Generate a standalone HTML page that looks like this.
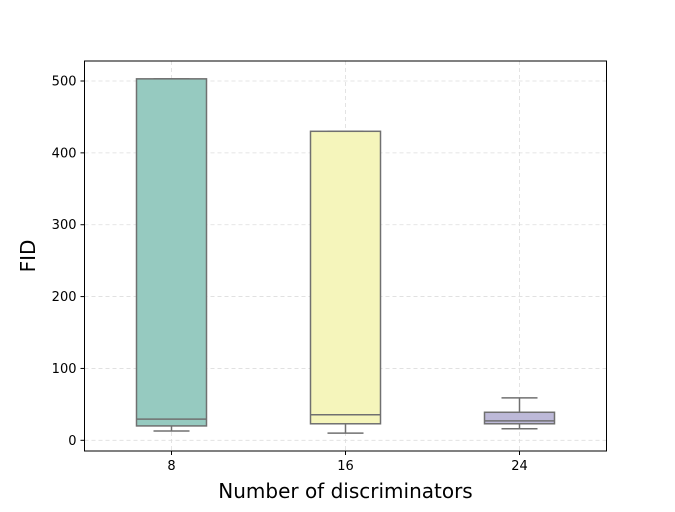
<!DOCTYPE html>
<html><head><meta charset="utf-8"><style>
body{margin:0;background:#fff}
svg text{font-family:"DejaVu Sans","Liberation Sans",sans-serif;fill:#000}
</style></head><body>
<svg width="675" height="507" xmlns="http://www.w3.org/2000/svg" id="chart">
</svg>
<script>
const categories=["8","16","24"];
const whiskerLow=[13,10,16];
const q1=[20,23,23];
const medians=[29.5,35.5,27];
const q3=[503,430,39];
const whiskerHigh=[503,430,59];
const colors=["#96cac0","#f5f5bb","#bdb9d8"];
const yTicks=[0,100,200,300,400,500];
const L=84.5,R=606.5,T=61,B=451;
const y0=440.3,yPer=(440.3-81)/500;
const ys=v=>y0-v*yPer;
const xs=i=>L+(i+0.5)*(R-L)/3;
const bw=70;
const svg=document.getElementById('chart');
const NS="http://www.w3.org/2000/svg";
function mk(t,a,p){const e=document.createElementNS(NS,t);for(const k in a)e.setAttribute(k,a[k]);(p||svg).appendChild(e);return e;}
// grid
yTicks.forEach(v=>{const g=mk('line',{x1:L,x2:R,y1:ys(v),y2:ys(v),stroke:'#ddd','stroke-dasharray':'4,3','stroke-width':0.8});

});
categories.forEach((c,i)=>{const g=mk('line',{x1:xs(i),x2:xs(i),y1:T,y2:B,stroke:'#ddd','stroke-dasharray':'4,3','stroke-width':0.8});

});
// boxes
categories.forEach((c,i)=>{
const g=mk('g',{});


const x=xs(i),st={stroke:'#707070','stroke-width':1.5,fill:'none'};
mk('line',Object.assign({x1:x,x2:x,y1:ys(whiskerLow[i]),y2:ys(q1[i])},st),g);
mk('line',Object.assign({x1:x,x2:x,y1:ys(q3[i]),y2:ys(whiskerHigh[i])},st),g);
mk('line',Object.assign({x1:x-18,x2:x+18,y1:ys(whiskerLow[i]),y2:ys(whiskerLow[i])},st),g);
mk('line',Object.assign({x1:x-18,x2:x+18,y1:ys(whiskerHigh[i]),y2:ys(whiskerHigh[i])},st),g);
mk('rect',{x:x-bw/2,y:ys(q3[i]),width:bw,height:ys(q1[i])-ys(q3[i]),fill:colors[i],stroke:'#707070','stroke-width':1.5},g);
mk('line',Object.assign({x1:x-bw/2,x2:x+bw/2,y1:ys(medians[i]),y2:ys(medians[i])},st),g);
});
// axes frame
const f=mk('rect',{x:L,y:T,width:R-L,height:B-T,fill:'none',stroke:'#000','stroke-width':1});


yTicks.forEach(v=>{mk('line',{x1:L-4,x2:L,y1:ys(v),y2:ys(v),stroke:'#000'});
const t=mk('text',{x:L-8,y:ys(v)+4.5,'text-anchor':'end','font-size':13});t.textContent=v;

});
categories.forEach((c,i)=>{mk('line',{x1:xs(i),x2:xs(i),y1:B,y2:B+4,stroke:'#000'});
const t=mk('text',{x:xs(i),y:B+19,'text-anchor':'middle','font-size':13});t.textContent=c;

});
const xt=mk('text',{x:(L+R)/2,y:498,'text-anchor':'middle','font-size':20});xt.textContent='Number of discriminators';


const yt=mk('text',{x:0,y:0,'text-anchor':'middle','font-size':20,transform:'translate(35,256) rotate(-90)'});yt.textContent='FID';


</script>
</body></html>
